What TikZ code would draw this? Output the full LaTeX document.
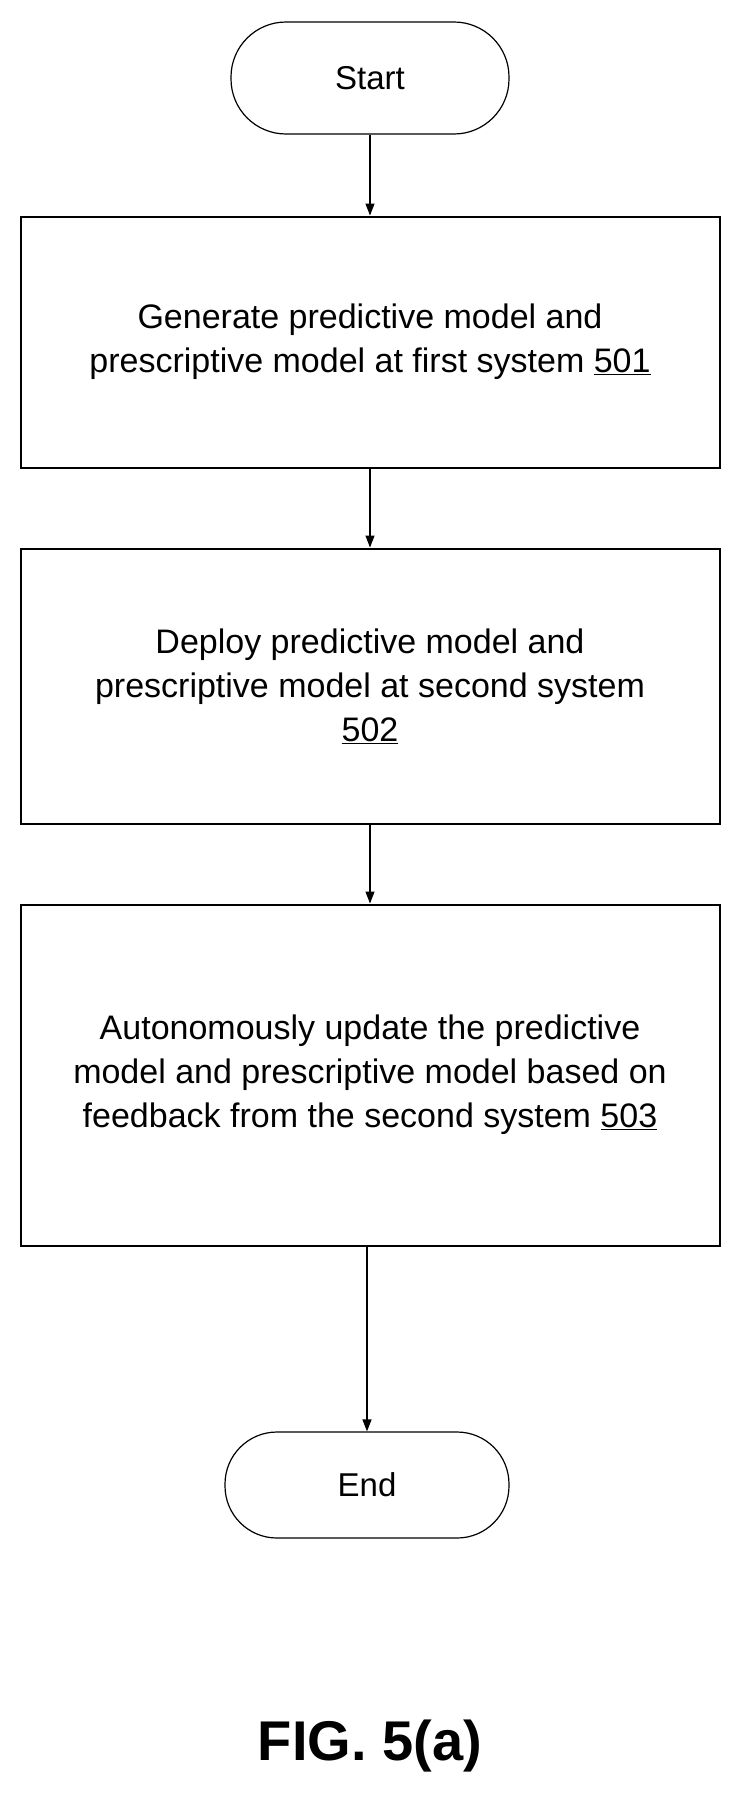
\documentclass[tikz,border=0pt]{standalone}
\usepackage{fontspec}
\setmainfont{Liberation Sans}
\usetikzlibrary{arrows.meta}
\begin{document}
\begin{tikzpicture}[x=1pt,y=-1pt,
  term/.style={draw,line width=1.2pt,rounded corners=55pt,minimum width=278pt,minimum height=112pt,font=\fontsize{33}{38}\selectfont},
  stepbox/.style={draw,line width=2pt,minimum width=699pt,align=center,font=\fontsize{34}{44}\selectfont},
  conn/.style={line width=1.2pt,-{Triangle[length=12pt,width=9pt]}}]
\useasboundingbox (0,0) rectangle (740,1812);
\node[term] (start) at (370,78) {Start};
\node[stepbox,minimum height=251pt] (b1) at (370,342) {Generate predictive model and\\prescriptive model at first system \underline{501}};
\node[stepbox,minimum height=275pt] (b2) at (370,686) {Deploy predictive model and\\prescriptive model at second system\\\underline{502}};
\node[stepbox,minimum height=341pt] (b3) at (370,1075) {Autonomously update the predictive\\model and prescriptive model based on\\feedback from the second system \underline{503}};
\node[term,minimum height=106pt,minimum width=284pt,rounded corners=52pt] (end) at (367,1485) {End};
\node[font=\bfseries\fontsize{56}{60}\selectfont] (fig) at (370,1746) {FIG. 5(a)};
\draw[conn] (start) -- (b1);
\draw[conn] (b1) -- (b2);
\draw[conn] (b2) -- (b3);
\draw[conn] (b3.south -| end.north) -- (end);
\end{tikzpicture}
\end{document}
